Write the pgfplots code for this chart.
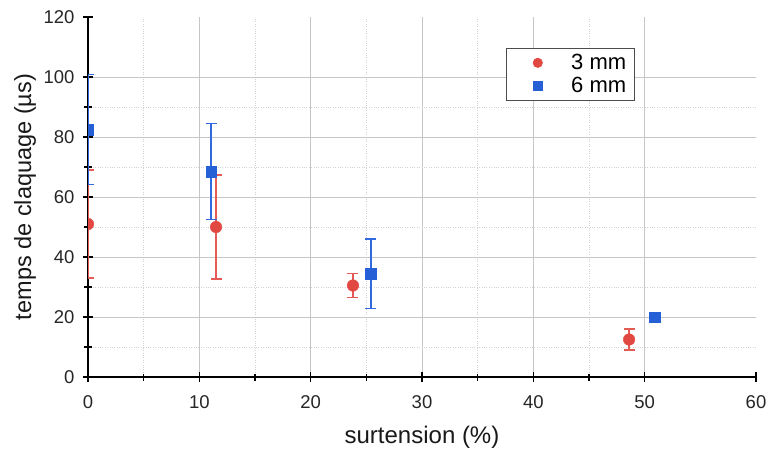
\documentclass[border=0pt]{standalone}
\usepackage{pgfplots}
\pgfplotsset{compat=1.18}
\usepackage{fontspec}
\setmainfont{Liberation Sans}
\definecolor{cred}{RGB}{226,72,66}
\definecolor{cblue}{RGB}{38,96,214}
\definecolor{credl}{RGB}{228,90,85}
\definecolor{cbluel}{RGB}{50,105,222}
\begin{document}
\begin{tikzpicture}
\begin{axis}[
  scale only axis, width=668pt, height=360pt,
  xmin=0, xmax=60, ymin=0, ymax=120,
  xtick={0,10,20,30,40,50}, ytick={0,20,40,60,80,100},
  extra x ticks={60}, extra y ticks={120},
  extra tick style={grid=none},
  minor x tick num=1, minor y tick num=1,
  axis x line*=bottom, axis y line*=left,
  grid=both,
  major grid style={gray!45, line width=0.9pt},
  minor grid style={gray!35, dotted, line width=0.8pt},
  tick align=center, major tick length=10pt, minor tick length=7pt,
  every tick/.style={black, line width=1.1pt},
  axis line style={black, line width=1.3pt},
  clip mode=individual, clip marker paths=true,
  /pgf/number format/assume math mode=true,
  ticklabel style={font=\fontsize{18.5}{20}\selectfont, text=black!85},
  xticklabel style={yshift=-10pt},
  yticklabel style={xshift=-5pt},
  xlabel={surtension (\%)},
  ylabel={temps de claquage (µs)},
  xlabel style={font=\fontsize{24}{26}\selectfont, text=black!90, at={(axis description cs:0.5,-0.1667)}, anchor=center},
  ylabel style={font=\fontsize{23.5}{26}\selectfont, text=black!90, at={(axis description cs:-0.0943,0.5)}, anchor=center},
  legend style={at={(0.6257,0.9139)}, anchor=north west, draw=black!70, line width=0.8pt,
    font=\fontsize{22}{24}\selectfont, row sep=2pt, inner xsep=6pt, inner ysep=4pt,
    cells={anchor=west}},
  legend cell align=left,
  legend image code/.code={\path (0pt,0pt) (40pt,0pt); \draw[#1, mark size=4.6pt] plot coordinates {(25pt,0pt)};},
]
\addplot[only marks, color=cred, mark=*, mark size=5.8pt,
  error bars/.cd, y dir=both, y explicit,
  error bar style={draw=credl, line width=1.6pt},
  error mark options={rotate=90, mark size=5.5pt, draw=credl, line width=1.6pt}]
  coordinates {
  (0,51) +- (0,18)
  (11.5,50) +- (0,17.3)
  (23.8,30.5) +- (0,4)
  (48.6,12.5) +- (0,3.5)
  };
\addlegendentry{\hspace{16pt}3 mm}
\addplot[only marks, color=cblue, mark=square*, mark size=5.2pt,
  error bars/.cd, y dir=both, y explicit,
  error bar style={draw=cbluel, line width=1.6pt},
  error mark options={rotate=90, mark size=5.5pt, draw=cbluel, line width=1.6pt}]
  coordinates {
  (0,82.5) +- (0,18.3)
  (11.05,68.5) +- (0,16)
  (25.4,34.5) +- (0,11.6)
  (50.9,20) +- (0,0)
  };
\addlegendentry{\hspace{16pt}6 mm}
\end{axis}
\pgfresetboundingbox
\path (current axis.south west) ++(-88pt,-76pt) coordinate (bbA);
\path (current axis.north east) ++(13pt,17pt) coordinate (bbB);
\useasboundingbox (bbA) rectangle (bbB);
\end{tikzpicture}
\end{document}
